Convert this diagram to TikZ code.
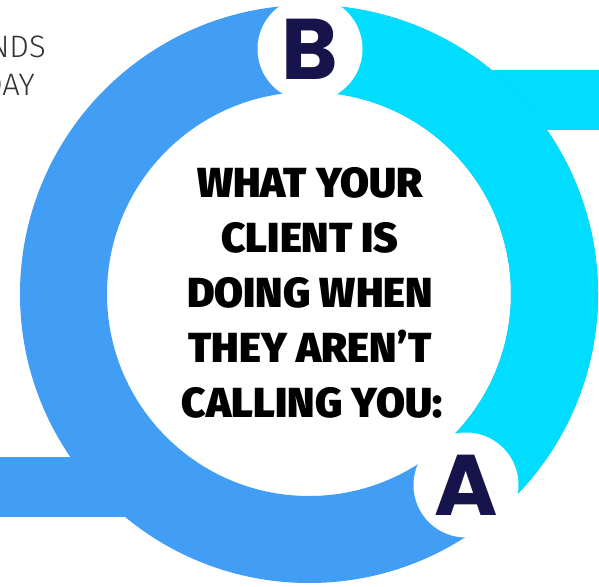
\documentclass[tikz,border=0pt]{standalone}
\usepackage{fontspec}
\newfontfamily\titlefont{Fira Sans Black}
\newfontfamily\letterfont{Poppins}
\newfontfamily\lightfont{Fira Sans Light}
\definecolor{ringblue}{HTML}{429EF5}
\definecolor{ringcyan}{HTML}{00DDFF}
\definecolor{navy}{HTML}{16144A}
\definecolor{textgray}{HTML}{333333}
\tikzset{
  titleline/.style={anchor=base,inner sep=0pt,font=\titlefont\fontsize{42}{42}\selectfont,text=black},
  badge/.style={circle,fill=white,minimum size=105,inner sep=0pt,text=navy,font=\letterfont\bfseries\fontsize{86}{86}\selectfont},
  sidetext/.style={anchor=base east,inner sep=0pt,font=\lightfont\fontsize{31}{31}\selectfont,text=textgray}
}
\begin{document}
\begin{tikzpicture}[x=1pt,y=-1pt]
\useasboundingbox (0,0) rectangle (599,586);
\fill[white] (0,0) rectangle (599,586);
\coordinate (O) at (309,294);
% bars
\fill[ringcyan] (480,70) rectangle (610,130);
\fill[ringblue] (-10,457) rectangle (130,517);
% ring
\fill[ringblue,even odd rule] (O) circle[radius=289] (O) circle[radius=202];
\fill[ringcyan] ([shift={(-90:289)}]O) arc[start angle=-90,end angle=50.6,radius=289]
  -- ([shift={(50.6:202)}]O) arc[start angle=50.6,end angle=-90,radius=202] -- cycle;
% badges
\node[badge] (B) at (310,49) {B};
\node[badge] (A) at (466,485) {A};
% title
\node[titleline] (t1) at (310,197) {WHAT YOUR};
\node[titleline] (t2) at (310,252) {CLIENT IS};
\node[titleline] (t3) at (310,307) {DOING WHEN};
\node[titleline] (t4) at (310,362) {THEY AREN’T};
\node[titleline] (t5) at (312,417) {CALLING YOU:};
% side text
\node[sidetext] (s1) at (46,57) {NDS};
\node[sidetext] (s2) at (35,95) {DAY};
\end{tikzpicture}
\end{document}
